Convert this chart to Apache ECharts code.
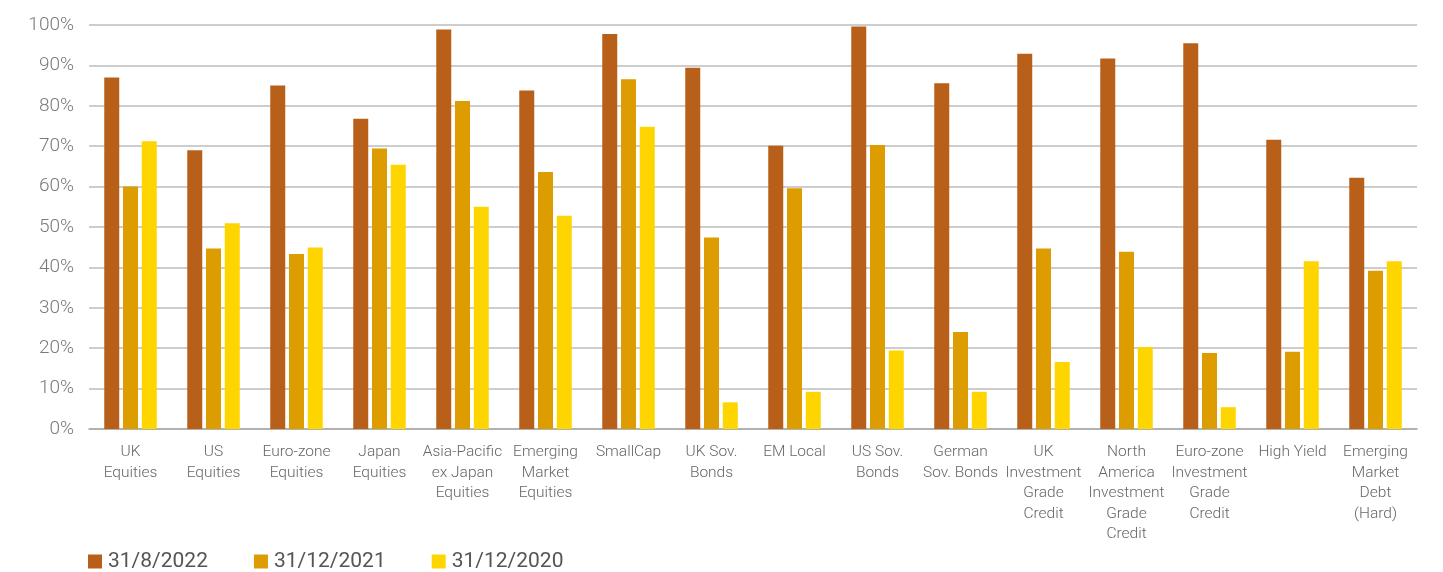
<!DOCTYPE html>
<html>
<head>
<meta charset="utf-8">
<script src="https://cdn.jsdelivr.net/npm/echarts@6/dist/echarts.min.js"></script>
<style>
html,body{margin:0;padding:0;background:#fff;}
#chart{width:1443px;height:572px;}
</style>
</head>
<body>
<div id="chart"></div>
<script>
const categories = [
  "UK\nEquities", "US\nEquities", "Euro-zone\nEquities", "Japan\nEquities",
  "Asia-Pacific\nex Japan\nEquities", "Emerging\nMarket\nEquities", "SmallCap",
  "UK Sov.\nBonds", "EM Local", "US Sov.\nBonds", "German\nSov. Bonds",
  "UK\nInvestment\nGrade\nCredit", "North\nAmerica\nInvestment\nGrade\nCredit",
  "Euro-zone\nInvestment\nGrade\nCredit", "High Yield", "Emerging\nMarket\nDebt\n(Hard)"
];
const seriesNames = ["31/8/2022", "31/12/2021", "31/12/2020"];
const values2022 = [87, 69, 85, 76.8, 98.9, 83.8, 97.8, 89.4, 70.1, 99.6, 85.6, 92.9, 91.7, 95.5, 71.6, 62.2];
const values2021 = [60, 44.7, 43.3, 69.4, 81.2, 63.6, 86.6, 47.4, 59.6, 70.3, 24.0, 44.7, 43.9, 18.8, 19.1, 39.2];
const values2020 = [71.2, 50.9, 44.9, 65.4, 55.0, 52.8, 74.8, 6.6, 9.2, 19.4, 9.2, 16.6, 20.3, 5.4, 41.5, 41.5];
const yTicks = { min: 0, max: 100, interval: 10 };
const colors = ["#B8601A", "#DD9C00", "#FFD500"];

const chart = echarts.init(document.getElementById('chart'), null, {renderer: 'canvas'});
const font = 'Roboto, "Noto Sans", sans-serif';
const data = [values2022, values2021, values2020];
chart.setOption({
  animation: false,
  color: colors,
  grid: { left: 89, right: 26, top: 25, bottom: 143, containLabel: false },
  legend: {
    left: 83, top: 546,
    itemWidth: 14, itemHeight: 14, itemGap: 46,
    icon: 'rect',
    textStyle: { fontFamily: font, fontSize: 21, color: '#555', padding: [0, 0, 0, 1] },
    data: seriesNames
  },
  xAxis: {
    type: 'category',
    data: categories,
    axisTick: { show: false },
    axisLine: { lineStyle: { color: '#a8a8a8', width: 1.5 } },
    axisLabel: {
      interval: 0, margin: 13,
      fontFamily: font, fontSize: 15.5, lineHeight: 20.5, color: '#666', fontWeight: 300
    }
  },
  yAxis: {
    type: 'value',
    min: yTicks.min, max: yTicks.max, interval: yTicks.interval,
    axisLine: { show: false },
    axisTick: { show: false },
    splitLine: { lineStyle: { color: '#bcbcbc', width: 1.5 } },
    axisLabel: {
      formatter: '{value}%', margin: 15,
      fontFamily: font, fontSize: 19, color: '#7a7a7a', fontWeight: 300
    }
  },
  series: seriesNames.map((name, i) => ({
    name: name,
    type: 'bar',
    data: data[i],
    barWidth: 15,
    barGap: '25%',
    itemStyle: { color: colors[i] }
  }))
});
</script>
</body>
</html>
